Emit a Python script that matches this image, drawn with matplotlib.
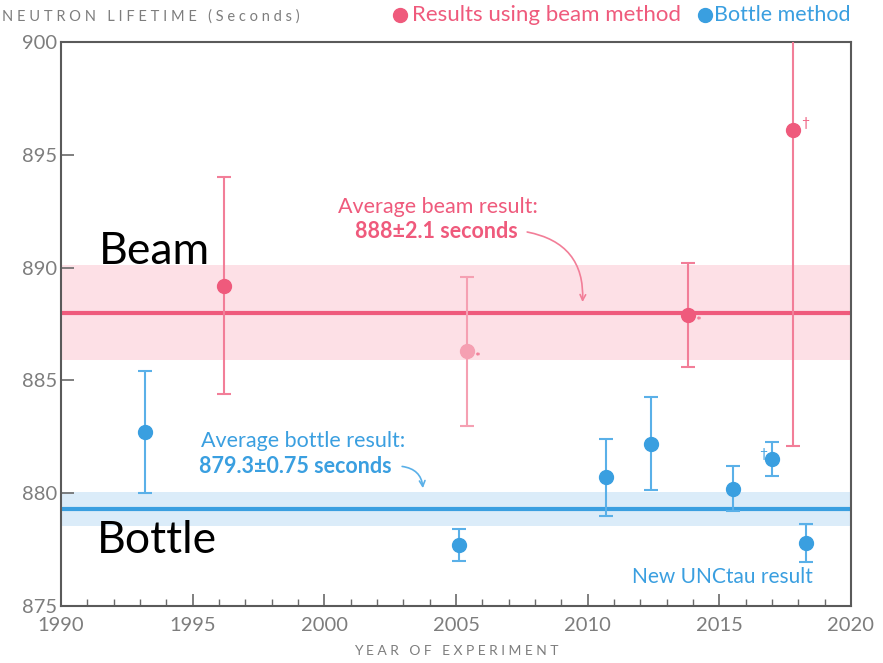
import numpy as np
import matplotlib
matplotlib.use("Agg")
import matplotlib.pyplot as plt
from matplotlib.lines import Line2D
from matplotlib.ticker import MultipleLocator

plt.rcParams['font.family'] = ['Lato', 'DejaVu Sans']

# beam method measurements (year, lifetime, uncertainty)
beam_year = [1996.2, 2005.4, 2013.8, 2017.8]
beam_tau = [889.2, 886.3, 887.9, 896.1]
beam_err = [4.8, 3.3, 2.3, 14.0]
beam_mark = ['', '*', '*', '\u2020']

# bottle method measurements
bottle_year = [1993.2, 2005.1, 2010.7, 2012.4, 2015.5, 2017.0, 2018.3]
bottle_tau = [882.7, 877.7, 880.7, 882.2, 880.2, 881.5, 877.8]
bottle_err = [2.7, 0.7, 1.7, 2.05, 1.0, 0.75, 0.85]

beam_avg, beam_avg_err = 888.0, 2.1
bottle_avg, bottle_avg_err = 879.3, 0.75

PINK = '#ef5a7c'
PINK_BAR = '#f27e98'
PINK_FADE = '#f5a0b2'
PINK_BAND = '#fde0e6'
BLUE = '#3a9fe0'
BLUE_BAR = '#5ab0e8'
BLUE_BAND = '#dbecf9'
GREY = '#7d7d7d'

fig = plt.figure(figsize=(8.83, 6.63), dpi=100)
ax = fig.add_axes([61 / 883, 1 - 606 / 663, 790 / 883, 564 / 663])
ax.set_xlim(1990, 2020)
ax.set_ylim(875, 900)

# average bands
ax.axhspan(beam_avg - beam_avg_err, beam_avg + beam_avg_err, color=PINK_BAND, lw=0, zorder=0)
ax.axhline(beam_avg, color=PINK, lw=3, zorder=1)
ax.axhspan(bottle_avg - bottle_avg_err, bottle_avg + bottle_avg_err, color=BLUE_BAND, lw=0, zorder=0)
ax.axhline(bottle_avg, color=BLUE, lw=3, zorder=1)

for i, (x, y, e) in enumerate(zip(beam_year, beam_tau, beam_err)):
    faded = i == 1
    ax.errorbar(x, y, yerr=e, fmt='o', ms=10, color=PINK_FADE if faded else PINK,
                ecolor=PINK_FADE if faded else PINK_BAR, elinewidth=1.5,
                capsize=5, capthick=1.5, zorder=3)
    if beam_mark[i] == '*':
        ax.text(x + 0.3, y - 0.3, '*', color=PINK, fontsize=10, ha='left', va='center')
    elif beam_mark[i]:
        ax.text(x + 0.3, y + 0.3, beam_mark[i], color=PINK, fontsize=10, ha='left', va='center')

for x, y, e in zip(bottle_year, bottle_tau, bottle_err):
    ax.errorbar(x, y, yerr=e, fmt='o', ms=10, color=BLUE, ecolor=BLUE_BAR,
                elinewidth=1.5, capsize=5, capthick=1.5, zorder=3)
ax.text(bottle_year[5] - 0.35, bottle_tau[5] + 0.25, '\u2020', color=BLUE, fontsize=10,
        ha='center', va='center')

# annotations
ax.text(2004.3, 892.7, 'Average beam result:', color=PINK, fontsize=15.5, ha='center', va='center')
ax.text(2004.25, 891.6, f'{beam_avg:g}\u00b1{beam_avg_err:g} seconds', color=PINK,
        fontsize=15.5, fontweight='bold', ha='center', va='center')
ax.annotate('', xy=(2009.8, beam_avg + 0.35), xytext=(2007.6, 891.6),
            arrowprops=dict(arrowstyle='->', color=PINK_BAR, lw=1.2,
                            connectionstyle='arc3,rad=-0.45'))

ax.text(1999.2, 882.3, 'Average bottle result:', color=BLUE, fontsize=15.5, ha='center', va='center')
ax.text(1998.9, 881.2, f'{bottle_avg:g}\u00b1{bottle_avg_err:g} seconds', color=BLUE,
        fontsize=15.5, fontweight='bold', ha='center', va='center')
ax.annotate('', xy=(2003.75, bottle_avg + 0.8), xytext=(2002.85, 881.2),
            arrowprops=dict(arrowstyle='->', color=BLUE_BAR, lw=1.2,
                            connectionstyle='arc3,rad=-0.45'))

ax.text(2015.1, 876.3, 'New UNCtau result', color=BLUE, fontsize=15, ha='center', va='center')

ax.text(1991.45, 890.7, 'Beam', color='black', fontsize=32, ha='left', va='center')
ax.text(1991.35, 877.9, 'Bottle', color='black', fontsize=32, ha='left', va='center')

# axes styling
for s in ax.spines.values():
    s.set_color('#5a5a5a')
    s.set_linewidth(1.5)
ax.xaxis.set_major_locator(MultipleLocator(5))
ax.xaxis.set_minor_locator(MultipleLocator(1))
ax.yaxis.set_major_locator(MultipleLocator(5))
ax.tick_params(axis='both', which='major', direction='in', length=9, width=1.2,
               color='#6a6a6a', labelcolor=GREY, labelsize=14.5, pad=3)
ax.tick_params(axis='x', which='minor', direction='in', length=5, width=1.0, color='#6a6a6a')
ax.tick_params(axis='x', which='major', pad=8)
ax.set_xlabel('Y E A R   O F   E X P E R I M E N T', color=GREY, fontsize=10, labelpad=8)

# header: title and legend
fig.text(2 / 883, 1 - 17 / 663, 'N E U T R O N   L I F E T I M E   ( S e c o n d s )', color=GREY,
         fontsize=10.5, ha='left', va='center')
fig.add_artist(Line2D([400 / 883], [1 - 15 / 663], marker='o', ms=10, color=PINK, lw=0))
fig.text(412 / 883, 1 - 15 / 663, 'Results using beam method', color=PINK, fontsize=16,
         ha='left', va='center')
fig.add_artist(Line2D([705 / 883], [1 - 15 / 663], marker='o', ms=10, color=BLUE, lw=0))
fig.text(714 / 883, 1 - 15 / 663, 'Bottle method', color=BLUE, fontsize=15.5,
         ha='left', va='center')

fig.savefig('out.png', dpi=100, facecolor='white')
